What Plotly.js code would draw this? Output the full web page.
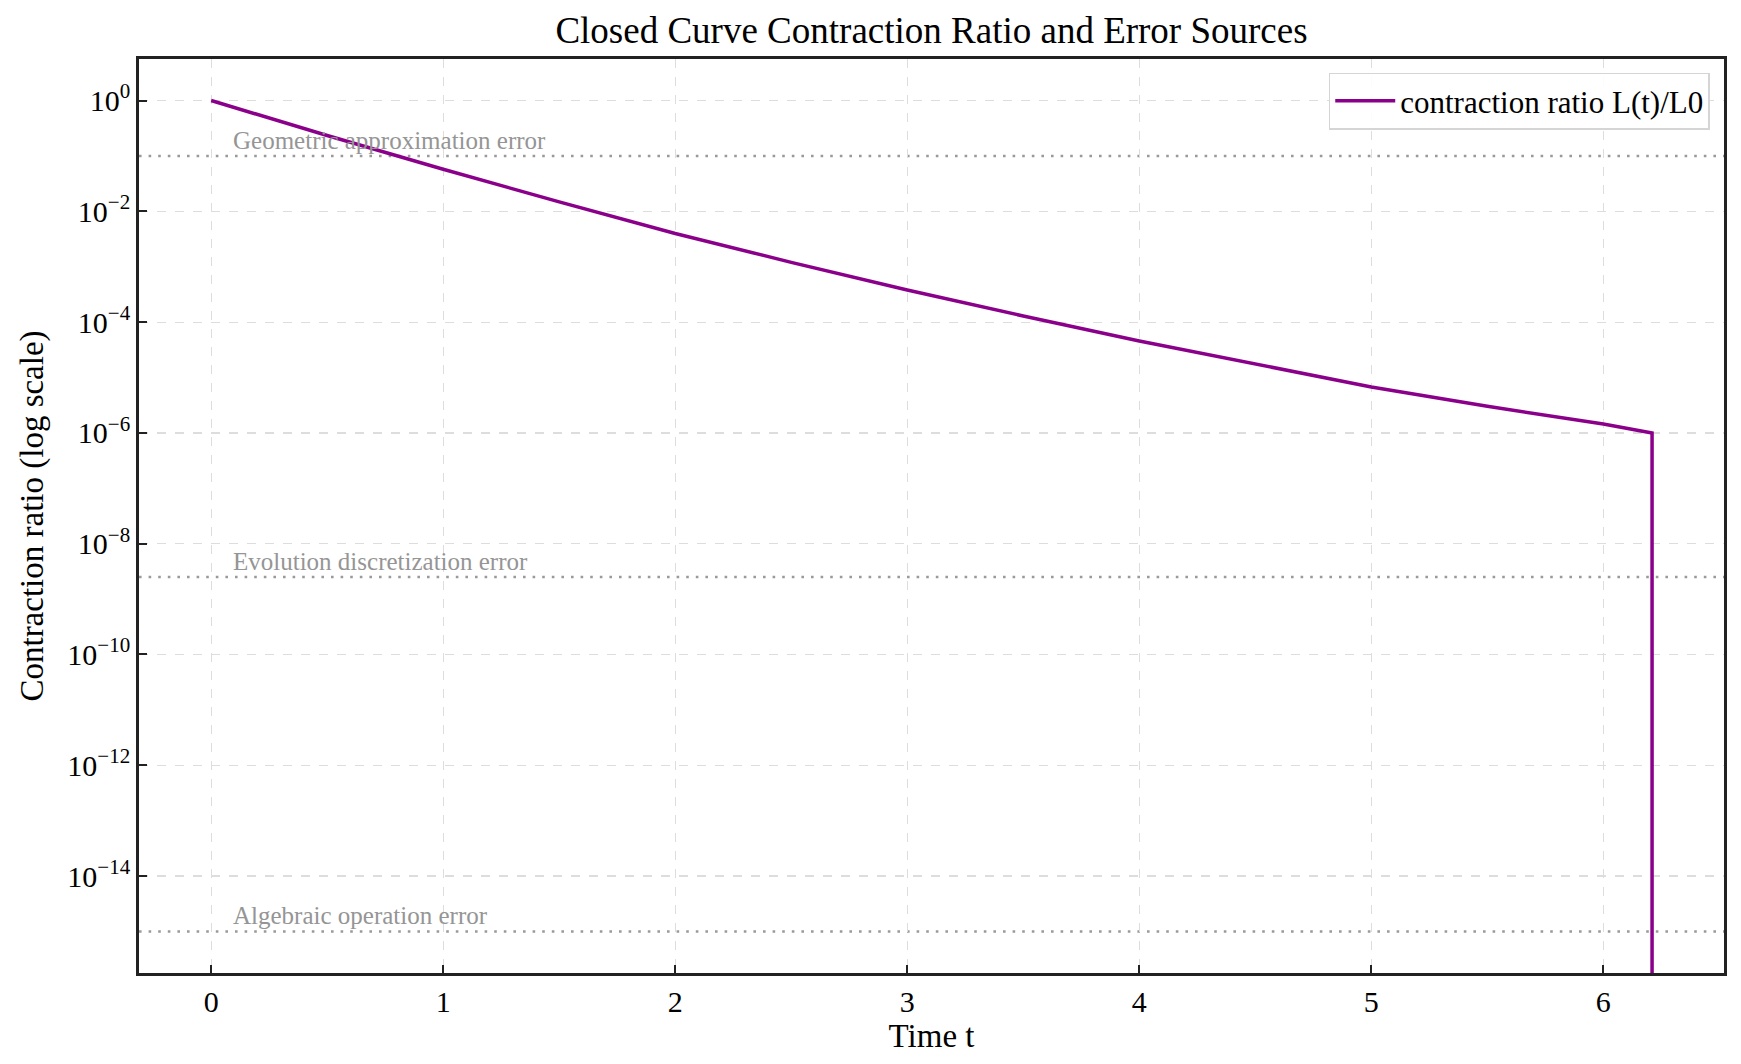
<!DOCTYPE html>
<html>
<head>
<meta charset="utf-8">
<script src="https://cdn.plot.ly/plotly-3.0.1.min.js"></script>
<style>html,body{margin:0;padding:0;background:#fff;}#chart{width:1741px;height:1064px;}</style>
</head>
<body>
<div id="chart"></div>
<script>
// Time samples
const timeT = [0, 0.5, 1, 1.5, 2, 2.5, 3, 3.5, 4, 4.5, 5, 5.5, 6, 6.21, 6.21];
// Contraction ratio L(t)/L0 (last value is the collapse to ~0)
const ratio = [1, 0.234, 0.0575, 0.0148, 0.00398, 0.0012, 0.00038, 0.000129, 4.57e-5, 1.74e-5, 6.76e-6, 3.02e-6, 1.45e-6, 1.0e-6, 1e-30];
// Error source levels
const errorNames = ["Geometric approximation error", "Evolution discretization error", "Algebraic operation error"];
const errorLevels = [1e-1, 2.5e-9, 1e-15];
// Tick labels
const yTickExps = [0, -2, -4, -6, -8, -10, -12, -14];
const xTicks = [0, 1, 2, 3, 4, 5, 6];

const serif = "Liberation Serif, Times New Roman, serif";
const purple = "#8b008b";

const traces = [{
  x: timeT, y: ratio, type: "scatter", mode: "lines",
  name: "contraction ratio L(t)/L0",
  line: {color: purple, width: 3.5}
}];

const shapes = errorLevels.map(v => ({
  type: "line", xref: "paper", x0: 0, x1: 1, yref: "y", y0: v, y1: v,
  line: {color: "#9a9a9a", width: 2.6, dash: "2.6px,7px"}, layer: "below"
}));

const annotations = errorNames.map((n, i) => ({
  text: n, xref: "x", yref: "y", x: 0.1, y: Math.log10(errorLevels[i]),
  xanchor: "left", yanchor: "bottom", xshift: -3, yshift: 0, showarrow: false,
  font: {family: serif, size: 25, color: "#959595"}
}));

const layout = {
  width: 1741, height: 1064,
  margin: {l: 139, r: 17, t: 59, b: 91},
  paper_bgcolor: "#fff", plot_bgcolor: "#fff",
  font: {family: serif, color: "#000"},
  title: {text: "Closed Curve Contraction Ratio and Error Sources", font: {family: serif, size: 37, color: "#000"}, xref: "paper", x: 0.5, xanchor: "center", y: 0.972, yanchor: "middle"},
  xaxis: {
    range: [-0.311, 6.52], tickvals: xTicks, ticktext: xTicks.map(String),
    ticks: "inside", ticklen: 8, tickwidth: 2, tickcolor: "#222",
    showline: true, linecolor: "#222", linewidth: 2.8, mirror: true,
    showgrid: true, gridcolor: "#dddddd", griddash: "dash", gridwidth: 1.2,
    zeroline: false, tickfont: {family: serif, size: 30},
    title: {text: "Time t", font: {family: serif, size: 33}, standoff: 8}
  },
  yaxis: {
    type: "log", range: [-15.75, 0.75],
    tickvals: yTickExps.map(e => Math.pow(10, e)),
    ticktext: yTickExps.map(e => "10<sup>" + (e < 0 ? "\u2212" + (-e) : e) + "</sup>"),
    ticks: "inside", ticklen: 8, tickwidth: 2, tickcolor: "#222",
    showline: true, linecolor: "#222", linewidth: 2.8, mirror: true,
    showgrid: true, gridcolor: "#dddddd", griddash: "dash", gridwidth: 1.2,
    zeroline: false, tickfont: {family: serif, size: 30},
    title: {text: "Contraction ratio (log scale)", font: {family: serif, size: 33}, standoff: 14}
  },
  showlegend: true,
  legend: {x: 0.991, y: 0.985, xanchor: "right", yanchor: "top", bgcolor: "rgba(255,255,255,0.9)", bordercolor: "#d5d5d5", borderwidth: 1.5, itemwidth: 60, font: {family: serif, size: 31, color: "#000"}},
  shapes: shapes, annotations: annotations
};

Plotly.newPlot("chart", traces, layout, {displayModeBar: false, staticPlot: true});
</script>
</body>
</html>
